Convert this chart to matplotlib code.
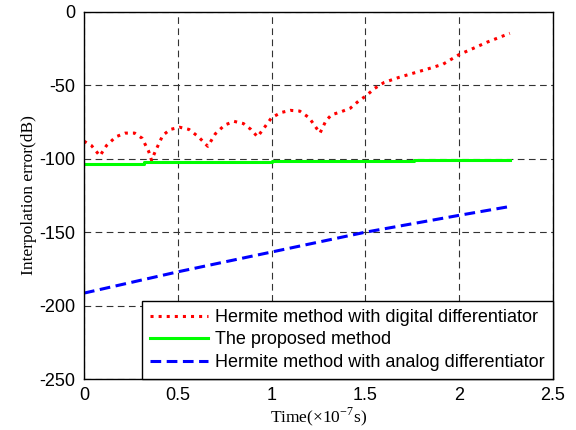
import numpy as np
import matplotlib
matplotlib.use('Agg')
import matplotlib.pyplot as plt

t_digital = [0.0, 0.04, 0.085, 0.12, 0.17, 0.22, 0.27, 0.31, 0.345, 0.36, 0.38,
             0.42, 0.46, 0.51, 0.56, 0.61, 0.66, 0.70, 0.75, 0.80, 0.85, 0.89,
             0.925, 0.96, 1.00, 1.05, 1.10, 1.15, 1.20, 1.258, 1.29, 1.32, 1.37,
             1.42, 1.47, 1.50, 1.55, 1.60, 1.68, 1.76, 1.84, 1.915, 2.00, 2.08,
             2.15, 2.27]
err_digital = [-88, -91, -98, -91, -85, -82.5, -82.5, -86, -95, -101, -95,
               -84, -80, -78.5, -80, -85, -91.5, -83, -77, -74.5, -76, -80,
               -85, -79, -72, -68.5, -67, -67.5, -72, -82.5, -74, -70, -68,
               -65.5, -60, -57.5, -52, -48, -44.5, -41.5, -38.5, -35.5, -29, -24.5,
               -20.5, -14.5]

t_proposed = [0.0, 0.32, 1.0, 1.76, 2.27]
err_proposed = [-103.3, -102.3, -101.8, -101.0, -101.0]

t_analog = [0.0, 0.5, 1.0, 1.5, 2.0, 2.27]
err_analog = [-191.5, -177, -163.5, -150, -138.5, -132.5]

labels = ['Hermite method with digital differentiator',
          'The proposed method',
          'Hermite method with analog differentiator']

xticks = [0, 0.5, 1, 1.5, 2, 2.5]
yticks = [0, -50, -100, -150, -200, -250]

plt.rcParams['font.family'] = ['Liberation Sans', 'DejaVu Sans']
plt.rcParams['axes.unicode_minus'] = False

fig = plt.figure(figsize=(5.76, 4.30), dpi=100)
ax = fig.add_axes([0.1458, 0.1186, 0.8142, 0.8535])

ax.plot(t_digital, err_digital, ':', color='#ff0000', lw=2.2, label=labels[0])
ax.plot(t_proposed, err_proposed, '-', color='#00ff00', lw=2.2,
        drawstyle='steps-post', label=labels[1])
ax.plot(t_analog, err_analog, '--', color='#0000ff', lw=2.2,
        dashes=(3.5, 1.8), label=labels[2])

ax.set_xlim(0, 2.5)
ax.set_ylim(-250, 0)
ax.set_xticks(xticks)
ax.set_xticklabels(['0', '0.5', '1', '1.5', '2', '2.5'])
ax.set_yticks(yticks)
ax.tick_params(length=0, labelsize=13, pad=6)
ax.grid(True, color='0.2', ls=(0, (6, 4)), lw=0.8)

for s in ax.spines.values():
    s.set_linewidth(1.0)
    s.set_color('black')

ax.set_xlabel('Time(×10$^{\\mathregular{-7}}$s)', family='Liberation Serif',
              fontsize=12.5, labelpad=0.5)
ax.set_ylabel('Interpolation error(dB)', family='Liberation Serif',
              fontsize=12.5, labelpad=2)

leg = ax.legend(loc='lower right', borderaxespad=0, fontsize=13,
                fancybox=False, framealpha=1, edgecolor='black',
                handlelength=3.2, handletextpad=0.4, labelspacing=0.3,
                borderpad=0.45)
leg.get_frame().set_linewidth(1.0)

fig.savefig('out.png', dpi=100)
